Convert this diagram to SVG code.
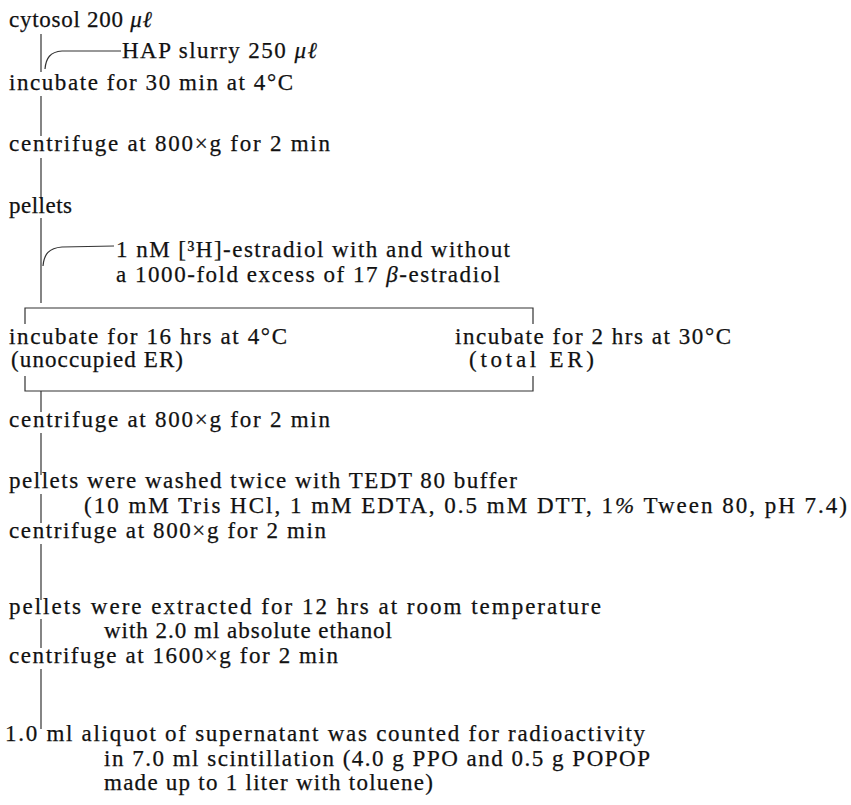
<svg xmlns="http://www.w3.org/2000/svg" width="851" height="805" viewBox="0 0 851 805">
<style>
text{font-family:"Liberation Serif","Times New Roman",serif;font-size:23px;fill:#111;stroke:#111;stroke-width:0.25}
.it{font-style:italic}
.ln{fill:none;stroke:#333;stroke-width:1.2}
</style>
<rect width="851" height="805" fill="#fff"/>
<g id="connectors">
<path class="ln" d="M41,34 V72"/>
<path class="ln" d="M45,69 C46,58 50,52 62,51 L121,51"/>
<path class="ln" d="M41,96 V136"/>
<path class="ln" d="M41,158 V199"/>
<path class="ln" d="M41,218 V303"/>
<path class="ln" d="M43,266 C44,254 49,248 62,247 L114,246"/>
<path class="ln" d="M25,324 V308 H533 V324"/>
<path class="ln" d="M25,376 V391 H533 V376"/>
<path class="ln" d="M41,391 V412"/>
<path class="ln" d="M41,433 V475"/>
<path class="ln" d="M41,494 V523"/>
<path class="ln" d="M41,544 V600"/>
<path class="ln" d="M41,619 V648"/>
<path class="ln" d="M41,669 V729"/>
</g>
<g id="n-cytosol"><text x="9" y="27" textLength="143" lengthAdjust="spacing">cytosol 200 <tspan class="it">μℓ</tspan></text></g>
<g id="n-hap"><text x="122" y="58" textLength="195" lengthAdjust="spacing">HAP slurry 250 <tspan class="it">μℓ</tspan></text></g>
<g id="n-inc1"><text x="9" y="90" textLength="284" lengthAdjust="spacing">incubate for 30 min at 4°C</text></g>
<g id="n-cent1"><text x="9" y="151" textLength="321" lengthAdjust="spacing">centrifuge at 800×g for 2 min</text></g>
<g id="n-pel1"><text x="9" y="213" textLength="63" lengthAdjust="spacing">pellets</text></g>
<g id="n-estr">
<text x="116" y="257" textLength="394" lengthAdjust="spacing">1 nM [³H]-estradiol with and without</text>
<text x="116" y="282" textLength="384" lengthAdjust="spacing">a 1000-fold excess of 17 <tspan class="it">β</tspan>-estradiol</text>
</g>
<g id="n-inc16">
<text x="9" y="344" textLength="278" lengthAdjust="spacing">incubate for 16 hrs at 4°C</text>
<text x="11" y="367" textLength="172" lengthAdjust="spacing">(unoccupied ER)</text>
</g>
<g id="n-inc2">
<text x="455" y="344" textLength="276" lengthAdjust="spacing">incubate for 2 hrs at 30°C</text>
<text x="469" y="367" textLength="125" lengthAdjust="spacing">(total ER)</text>
</g>
<g id="n-cent2"><text x="9" y="427" textLength="321" lengthAdjust="spacing">centrifuge at 800×g for 2 min</text></g>
<g id="n-wash">
<text x="9" y="488" textLength="508" lengthAdjust="spacing">pellets were washed twice with TEDT 80 buffer</text>
<text x="84" y="513" textLength="763" lengthAdjust="spacing">(10 mM Tris HCl, 1 mM EDTA, 0.5 mM DTT, 1<tspan class="it">%</tspan> Tween 80, pH 7.4)</text>
</g>
<g id="n-cent3"><text x="9" y="538" textLength="317" lengthAdjust="spacing">centrifuge at 800×g for 2 min</text></g>
<g id="n-extr">
<text x="9" y="614" textLength="592" lengthAdjust="spacing">pellets were extracted for 12 hrs at room temperature</text>
<text x="104" y="638" textLength="288" lengthAdjust="spacing">with 2.0 ml absolute ethanol</text>
</g>
<g id="n-cent4"><text x="9" y="663" textLength="329" lengthAdjust="spacing">centrifuge at 1600×g for 2 min</text></g>
<g id="n-count">
<text x="5" y="741" textLength="640" lengthAdjust="spacing">1.0 ml aliquot of supernatant was counted for radioactivity</text>
<text x="104" y="766" textLength="546" lengthAdjust="spacing">in 7.0 ml scintillation (4.0 g PPO and 0.5 g POPOP</text>
<text x="104" y="790" textLength="329" lengthAdjust="spacing">made up to 1 liter with toluene)</text>
</g>
</svg>
